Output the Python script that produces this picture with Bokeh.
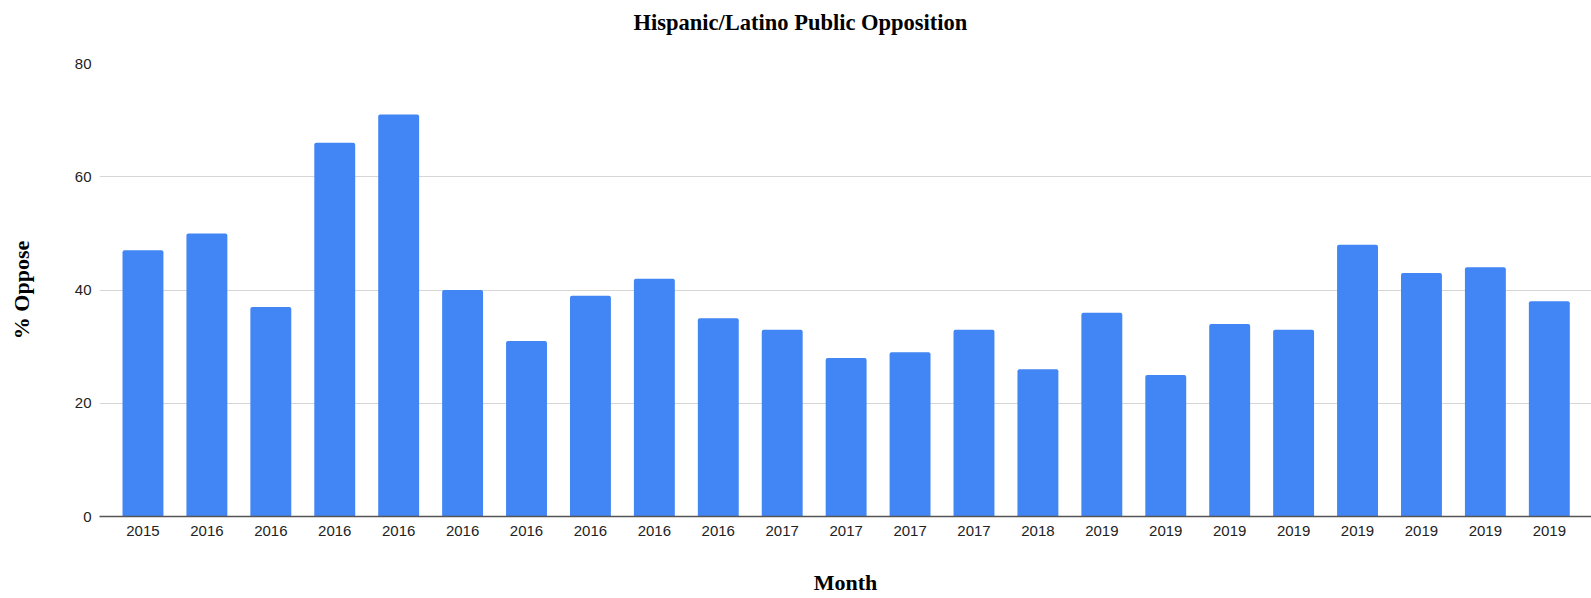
from bokeh.plotting import figure
from bokeh.models import Range1d, FixedTicker, ColumnDataSource
from bokeh.embed import file_html
from bokeh.resources import INLINE

# Data
title_text = "Hispanic/Latino Public Opposition"
years = ["2015", "2016", "2016", "2016", "2016", "2016", "2016", "2016", "2016", "2016",
         "2017", "2017", "2017", "2017", "2018",
         "2019", "2019", "2019", "2019", "2019", "2019", "2019", "2019"]
oppose = [47, 50, 37, 66, 71, 40, 31, 39, 42, 35,
          33, 28, 29, 33, 26,
          36, 25, 34, 33, 48, 43, 44, 38]
y_ticks = [0, 20, 40, 60, 80]

idx = list(range(len(oppose)))
src = ColumnDataSource(dict(x=idx, top=oppose, label=years))

W, H = 1591, 598
B_LEFT, B_TOP, B_BOTTOM = 99, 63, 82

p = figure(width=W, height=H, output_backend="svg", toolbar_location=None,
           x_range=Range1d(-0.68, len(oppose) - 1 + 0.66), y_range=Range1d(0, 80),
           min_border_left=B_LEFT, min_border_right=0, min_border_top=B_TOP,
           min_border_bottom=B_BOTTOM)
p.outline_line_color = None
p.background_fill_color = "white"

p.vbar(x="x", top="top", width=0.64, source=src, color="#4285F4", line_color=None,
       border_radius=(2, 2, 0, 0))

# Title: trailing empty line lifts the visible line further from the frame
p.title.text = title_text + "\n"
p.title.align = "left"
p.title.offset = 534
p.title.standoff = 7
p.title.text_font = "Liberation Serif"
p.title.text_font_size = "22.5px"
p.title.text_font_style = "bold"
p.title.text_color = "#000000"

# X axis
xa = p.xaxis[0]
xa.ticker = FixedTicker(ticks=idx)
xa.major_label_overrides = {i: years[i] for i in idx}
xa.major_tick_line_color = None
xa.minor_tick_line_color = None
xa.major_tick_out = 0
xa.major_label_standoff = 9
xa.major_label_text_font = "Liberation Sans"
xa.major_label_text_font_size = "15px"
xa.major_label_text_color = "#222222"
xa.axis_line_color = "#555555"
xa.axis_line_width = 1.3
xa.axis_label = "Month"
xa.axis_label_text_font = "Liberation Serif"
xa.axis_label_text_font_size = "22px"
xa.axis_label_text_font_style = "bold"
xa.axis_label_text_color = "#000000"
xa.axis_label_standoff = 31

# Y axis
ya = p.yaxis[0]
ya.ticker = FixedTicker(ticks=y_ticks)
ya.major_tick_line_color = None
ya.minor_tick_line_color = None
ya.major_tick_out = 0
ya.axis_line_color = None
ya.major_label_standoff = 8
ya.major_label_text_font = "Liberation Sans"
ya.major_label_text_font_size = "15px"
ya.major_label_text_color = "#222222"
ya.axis_label = "% Oppose"
ya.axis_label_text_font = "Liberation Serif"
ya.axis_label_text_font_size = "22px"
ya.axis_label_text_font_style = "bold"
ya.axis_label_text_color = "#000000"
ya.axis_label_standoff = 38

p.xgrid.grid_line_color = None
p.ygrid.grid_line_color = "#d6d6d6"
p.ygrid.grid_line_width = 1

open("out.html", "w").write(file_html(p, INLINE))
